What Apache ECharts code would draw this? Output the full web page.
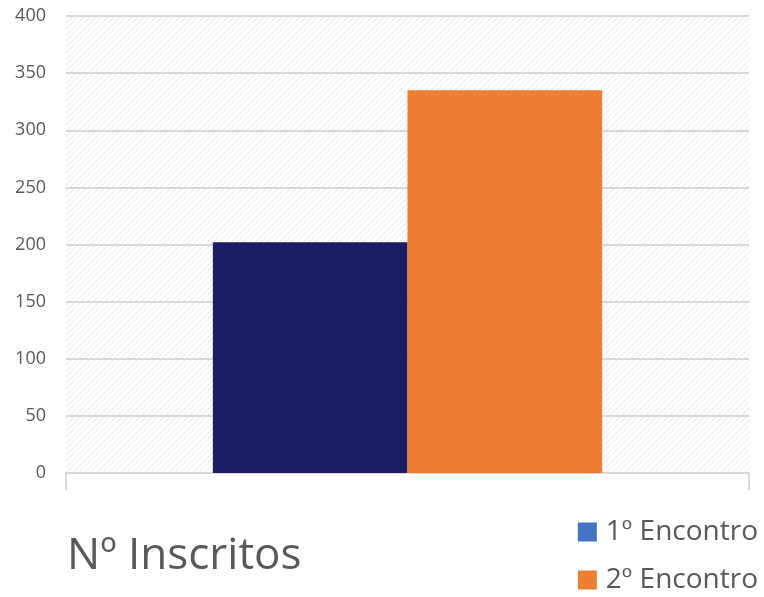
<!DOCTYPE html>
<html>
<head>
<meta charset="utf-8">
<script src="https://cdn.jsdelivr.net/npm/echarts@6/dist/echarts.min.js"></script>
<style>
html,body{margin:0;padding:0;background:#fff;}
#chart{width:764px;height:597px;}
</style>
</head>
<body>
<div id="chart"></div>
<script>
var categories = ['Nº Inscritos'];
var seriesNames = ['1º Encontro', '2º Encontro'];
var encontro1 = [202];
var encontro2 = [335];
var yTicks = { min: 0, max: 400, interval: 50 };

var barColors = ['#1B1C63', '#ED7D31'];
var legendColors = ['#4472C4', '#ED7D31'];

// dotted diagonal background pattern
var pc = document.createElement('canvas');
pc.width = 6; pc.height = 6;
var pctx = pc.getContext('2d');
pctx.fillStyle = '#ffffff';
pctx.fillRect(0, 0, 6, 6);
pctx.fillStyle = '#dedede';
pctx.fillRect(0, 4, 1, 1);
pctx.fillRect(2, 2, 1, 1);
pctx.fillRect(4, 0, 1, 1);
pctx.fillStyle = '#eeeeee';
pctx.fillRect(1, 3, 1, 1);
pctx.fillRect(3, 1, 1, 1);
pctx.fillRect(5, 5, 1, 1);

var chart = echarts.init(document.getElementById('chart'), null, { renderer: 'canvas' });
var font = '"Open Sans", sans-serif';
chart.setOption({
  animation: false,
  backgroundColor: '#ffffff',
  grid: {
    left: 66, right: 15, top: 16, bottom: 124,
    show: true, borderWidth: 0,
    backgroundColor: { image: pc, repeat: 'repeat' }
  },
  title: {
    text: categories[0],
    left: 62, top: 529,
    textStyle: { color: '#595959', fontFamily: font, fontSize: 44, fontWeight: 'normal' }
  },
  legend: {
    orient: 'vertical',
    right: 6, top: 517, height: 120, padding: 0,
    itemWidth: 19, itemHeight: 19, itemGap: 18,
    icon: 'rect',
    textStyle: { color: '#595959', fontFamily: font, fontSize: 28, lineHeight: 30, padding: [0, 0, 0, 4] },
    data: [
      { name: seriesNames[0], itemStyle: { color: legendColors[0] } },
      { name: seriesNames[1], itemStyle: { color: legendColors[1] } }
    ]
  },
  xAxis: {
    type: 'category',
    data: categories,
    axisLine: { show: true, lineStyle: { color: '#d9d9d9', width: 2 } },
    axisTick: { show: true, length: 17, lineStyle: { color: '#d9d9d9', width: 2 } },
    axisLabel: { show: false }
  },
  yAxis: {
    type: 'value',
    min: yTicks.min, max: yTicks.max, interval: yTicks.interval,
    axisLine: { show: false },
    axisTick: { show: false },
    axisLabel: { color: '#595959', fontFamily: font, fontSize: 18, margin: 20 },
    splitLine: { lineStyle: { color: '#d9d9d9', width: 2 } }
  },
  series: [
    { name: seriesNames[0], type: 'bar', data: encontro1, barGap: '0%', barCategoryGap: '43%',
      itemStyle: { color: barColors[0] } },
    { name: seriesNames[1], type: 'bar', data: encontro2, barGap: '0%', barCategoryGap: '43%',
      itemStyle: { color: barColors[1] } }
  ]
});
</script>
</body>
</html>
